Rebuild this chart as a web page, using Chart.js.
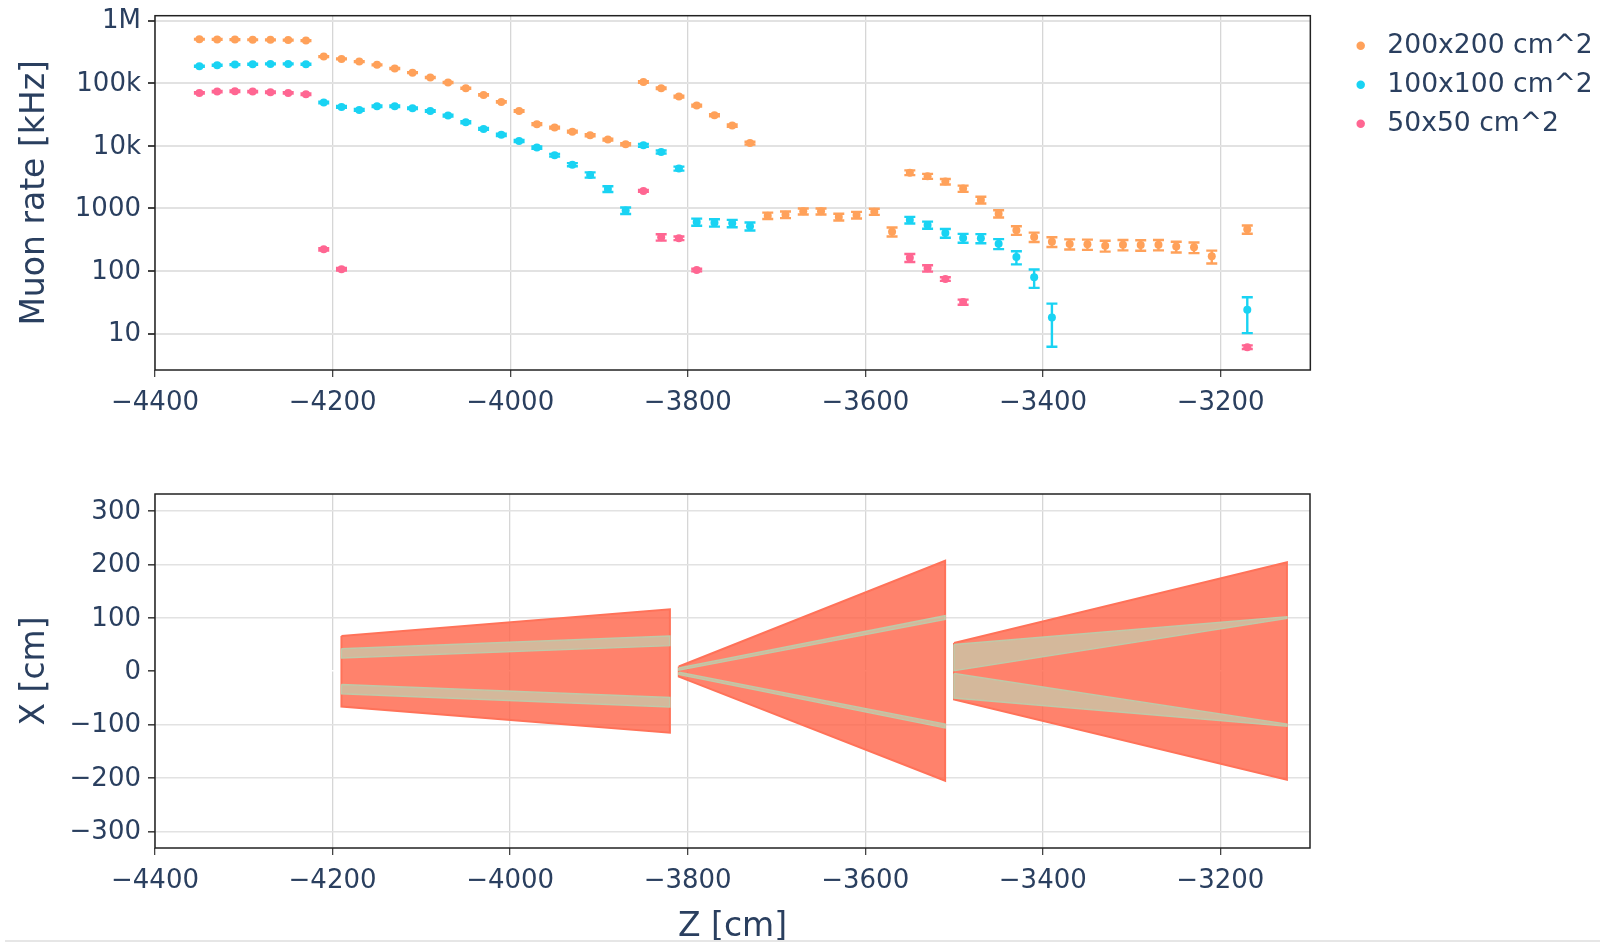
<!DOCTYPE html>
<html>
<head>
<meta charset="utf-8">
<script src="https://cdn.jsdelivr.net/npm/chart.js@4/dist/chart.umd.min.js"></script>
<style>
  html, body { margin: 0; padding: 0; background: #fff; overflow: hidden; width: 1600px; height: 942px; }
  canvas { position: absolute; left: 0; }
  #rate { top: 0; }
  #layout { top: 470px; }
  #footline { position: absolute; left: 5px; right: 0; top: 940px; height: 2px; background: #e6e6e6; }
</style>
</head>
<body>
<canvas id="rate" width="1600" height="470"></canvas>
<canvas id="layout" width="1600" height="474"></canvas>
<div id="footline"></div>
<script>
// station positions [cm], one every 20 cm
const zValues = [-4350,-4330,-4310,-4290,-4270,-4250,-4230,-4210,-4190,-4170,-4150,-4130,-4110,-4090,-4070,-4050,-4030,-4010,-3990,-3970,
  -3950,-3930,-3910,-3890,-3870,-3850,-3830,-3810,-3790,-3770,-3750,-3730,-3710,-3690,-3670,-3650,-3630,-3610,-3590,-3570,
  -3550,-3530,-3510,-3490,-3470,-3450,-3430,-3410,-3390,-3370,-3350,-3330,-3310,-3290,-3270,-3250,-3230,-3210,-3190,-3170];

const rate200 = [506000,503000,500000,497000,494000,491000,482000,267000,245000,222000,197000,172000,148000,124000,103000,83400,65300,50400,36200,22200,
  19600,16900,14800,12600,10600,105000,83400,61400,44000,30900,21100,11100,769,798,902,902,733,788,891,427,
  3740,3270,2690,2080,1370,828,449,351,295,271,268,255,264,261,264,246,240,172,null,465];
const err200 = [7000,7000,7000,7000,7000,7000,7000,4500,4200,3900,3500,3100,2800,2400,2100,1800,1500,1200,1000,750,
  680,610,540,480,420,3000,2500,2000,1600,1200,900,550,90,95,100,100,90,95,100,70,
  330,300,270,240,170,110,70,60,52,50,50,50,50,50,50,48,46,40,null,70];

const rate100 = [187000,194000,199000,202000,204000,204000,202000,49200,42000,37600,43000,43000,39900,36200,30500,23900,18700,15000,12000,9400,
  7080,5020,3440,2050,925,10200,8010,4340,609,594,580,520,null,null,null,null,null,null,null,null,
  656,546,406,338,334,274,168,80,18.2,null,null,null,null,null,null,null,null,null,null,24.2];
const err100 = [3500,3600,3700,3700,3700,3700,3700,1400,1300,1200,1300,1300,1200,1100,1000,850,700,600,480,420,
  340,280,330,220,110,500,440,320,80,80,78,76,null,null,null,null,null,null,null,null,
  80,70,65,55,55,50,40,26,12,null,null,null,null,null,null,null,null,null,null,14];

const rate50 = [70300,73800,74700,73800,72000,70300,66900,223,107,null,null,null,null,null,null,null,null,null,null,null,
  null,null,null,null,null,1910,347,334,104,null,null,null,null,null,null,null,null,null,null,null,
  164,111,74.8,32,null,null,null,null,null,null,null,null,null,null,null,null,null,null,null,6.1];
const err50 = [2000,2000,2000,2000,2000,2000,2000,10,5,null,null,null,null,null,null,null,null,null,null,null,
  null,null,null,null,null,60,40,22,5,null,null,null,null,null,null,null,null,null,null,null,
  24,13,5,3,null,null,null,null,null,null,null,null,null,null,null,null,null,null,null,0.4];

const seriesNames = ['200x200 cm^2', '100x100 cm^2', '50x50 cm^2'];

const xTicks = [-4400,-4200,-4000,-3800,-3600,-3400,-3200];
const rateTicks = [10,100,1000,10000,100000,1000000];
const rateTickLabels = ['10','100','1000','10k','100k','1M'];
const xcmTicks = [-300,-200,-100,0,100,200,300];

// magnet cross sections, outlines in (z, x) [cm]
const coneAZ = [-4190,-3820,-3820,-4190,-4190];
const coneAX = [66,116,-115,-66,66];
const coneBZ = [-3810,-3510,-3510,-3810,-3810];
const coneBX = [9,207,-205,-10,9];
const coneCZ = [-3500,-3125,-3125,-3500,-3500];
const coneCX = [53,204,-203,-53,53];
// iron bands inside the sections
const bandA1X = [42,66,48,25,42];
const bandA2X = [-25,-49,-67,-42,-25];
const bandB1X = [6,104,97,2,6];
const bandB2X = [-2,-99,-106,-6,-2];
const bandC1X = [50,102,99,1,50];
const bandC2X = [-4,-99,-103,-50,-4];

const INK = '#2a3f5f';
const PLOT_LEFT = 155;
Chart.defaults.font.family = '"DejaVu Sans", Verdana, sans-serif';
Chart.defaults.color = INK;

const points = (xs, ys) => xs.map((x, i) => ({x: x, y: ys[i]}));
const minusLabel = v => (v < 0 ? '\u2212' : '') + Math.abs(v);

// plotly style error bars and the frame around the plot
const errorBars = {
  id: 'errorBars',
  beforeDatasetsDraw(chart) {
    const {ctx, scales} = chart;
    chart.data.datasets.forEach(ds => {
      if (!ds.err) return;
      ctx.save();
      ctx.strokeStyle = ds.backgroundColor;
      ctx.lineWidth = 2.4;
      ds.data.forEach((p, i) => {
        if (p.y === null) return;
        const px = scales.x.getPixelForValue(p.x);
        const hi = scales.y.getPixelForValue(p.y + ds.err[i]);
        const lo = scales.y.getPixelForValue(p.y - ds.err[i]);
        ctx.beginPath();
        ctx.moveTo(px, hi); ctx.lineTo(px, lo);
        ctx.moveTo(px - 5.5, hi); ctx.lineTo(px + 5.5, hi);
        ctx.moveTo(px - 5.5, lo); ctx.lineTo(px + 5.5, lo);
        ctx.stroke();
      });
      ctx.restore();
    });
  }
};
const frame = {
  id: 'frame',
  afterDraw(chart) {
    const a = chart.chartArea;
    chart.ctx.save();
    chart.ctx.strokeStyle = '#222';
    chart.ctx.lineWidth = 1.5;
    chart.ctx.strokeRect(a.left, a.top, a.right - a.left, a.bottom - a.top);
    chart.ctx.restore();
  }
};
// legend sits a bit off from where the layout puts it
const legendSpot = {
  id: 'legendSpot',
  afterLayout(chart) {
    chart.legend.left = 1335;
    chart.legend.top = 20;
  }
};

function xScale(height, gridWidth) {
  return {
    type: 'linear', min: -4400, max: -3099,
    afterFit(s) { s.height = height; },
    afterBuildTicks(s) { s.ticks = xTicks.map(v => ({value: v})); },
    grid: {color: '#d6d6d6', lineWidth: gridWidth, tickLength: 7, tickColor: '#444'},
    border: {display: false},
    ticks: {font: {size: 26}, padding: 10.5, maxRotation: 0, autoSkip: false, callback: minusLabel}
  };
}

function yTitle(text) {
  return {display: true, text: text, font: {size: 33, lineHeight: 1}, padding: {top: 19, bottom: 0}};
}

// fixed width, and no room reserved for the outermost labels
function pinY(s) {
  s.width = PLOT_LEFT;
  s.paddingTop = 0;
  s.paddingBottom = 0;
}

function rateSet(label, color, ys, errs) {
  return {
    label: label, data: points(zValues, ys), err: errs,
    backgroundColor: color, borderColor: color,
    pointRadius: 4, pointHoverRadius: 4, borderWidth: 0, showLine: false
  };
}

new Chart(document.getElementById('rate'), {
  type: 'scatter',
  data: {datasets: [
    rateSet(seriesNames[0], '#FFA15A', rate200, err200),
    rateSet(seriesNames[1], '#19D3F3', rate100, err100),
    rateSet(seriesNames[2], '#FF6692', rate50, err50)
  ]},
  plugins: [errorBars, frame, legendSpot],
  options: {
    responsive: false, animation: false,
    layout: {autoPadding: false, padding: {top: 15.7}},
    plugins: {
      tooltip: {enabled: false},
      legend: {
        position: 'right', align: 'start',
        labels: {usePointStyle: true, pointStyle: 'circle', boxHeight: 6, padding: 12.4, color: INK, font: {size: 26.6}}
      }
    },
    scales: {
      x: xScale(100, 1.3),
      y: {
        type: 'logarithmic', min: 2.63, max: 1202000,
        afterFit: pinY,
        afterBuildTicks(s) { s.ticks = rateTicks.map(v => ({value: v})); },
        title: yTitle('Muon rate [kHz]'),
        grid: {color: '#e2e2e2', lineWidth: 2, tickLength: 7, tickColor: '#444'},
        border: {display: false},
        ticks: {font: {size: 26}, padding: 7, labelOffset: 1, autoSkip: false, callback: v => rateTickLabels[rateTicks.indexOf(v)]}
      },
      // empty axis, keeps the gap between plot and legend
      gap: {
        position: 'right', afterFit(s) { s.width = 23; s.paddingTop = 0; s.paddingBottom = 0; },
        grid: {display: false}, border: {display: false}, ticks: {display: false}
      }
    }
  }
});

function shape(zs, xs, fillColor, lineColor, width) {
  return {
    data: points(zs, xs), showLine: true, fill: 'shape', tension: 0,
    backgroundColor: fillColor, borderColor: lineColor, borderWidth: width,
    pointRadius: 0, pointHoverRadius: 0
  };
}
const RED = 'rgba(255,99,71,0.8)', RED_LINE = '#ff7259';
const TAN = 'rgba(212,184,155,1)', TAN_LINE = '#bfc9a8';

new Chart(document.getElementById('layout'), {
  type: 'scatter',
  data: {datasets: [
    shape(coneAZ, bandA1X, TAN, TAN_LINE, 1.5),
    shape(coneAZ, bandA2X, TAN, TAN_LINE, 1.5),
    shape(coneBZ, bandB1X, TAN, TAN_LINE, 1.5),
    shape(coneBZ, bandB2X, TAN, TAN_LINE, 1.5),
    shape(coneCZ, bandC1X, TAN, TAN_LINE, 1.5),
    shape(coneCZ, bandC2X, TAN, TAN_LINE, 1.5),
    shape(coneAZ, coneAX, RED, RED_LINE, 2),
    shape(coneBZ, coneBX, RED, RED_LINE, 2),
    shape(coneCZ, coneCX, RED, RED_LINE, 2)
  ]},
  plugins: [frame],
  options: {
    responsive: false, animation: false,
    layout: {autoPadding: false, padding: {top: 24, right: 290}},
    plugins: {tooltip: {enabled: false}, legend: {display: false}},
    scales: {
      x: Object.assign(xScale(96, 1.3), {
        title: {display: true, text: 'Z [cm]', font: {size: 33, lineHeight: 1}, padding: {top: 0, bottom: 0}}
      }),
      y: {
        type: 'linear', min: -331, max: 332,
        afterFit: pinY,
        afterBuildTicks(s) { s.ticks = xcmTicks.map(v => ({value: v})); },
        title: yTitle('X [cm]'),
        grid: {color: c => c.tick && c.tick.value === 0 ? '#ffffff' : '#e2e2e2', lineWidth: 1.6, tickLength: 7, tickColor: '#444'},
        border: {display: false},
        ticks: {font: {size: 26}, padding: 7, labelOffset: 1, autoSkip: false, callback: minusLabel}
      }
    }
  }
});
</script>
</body>
</html>
